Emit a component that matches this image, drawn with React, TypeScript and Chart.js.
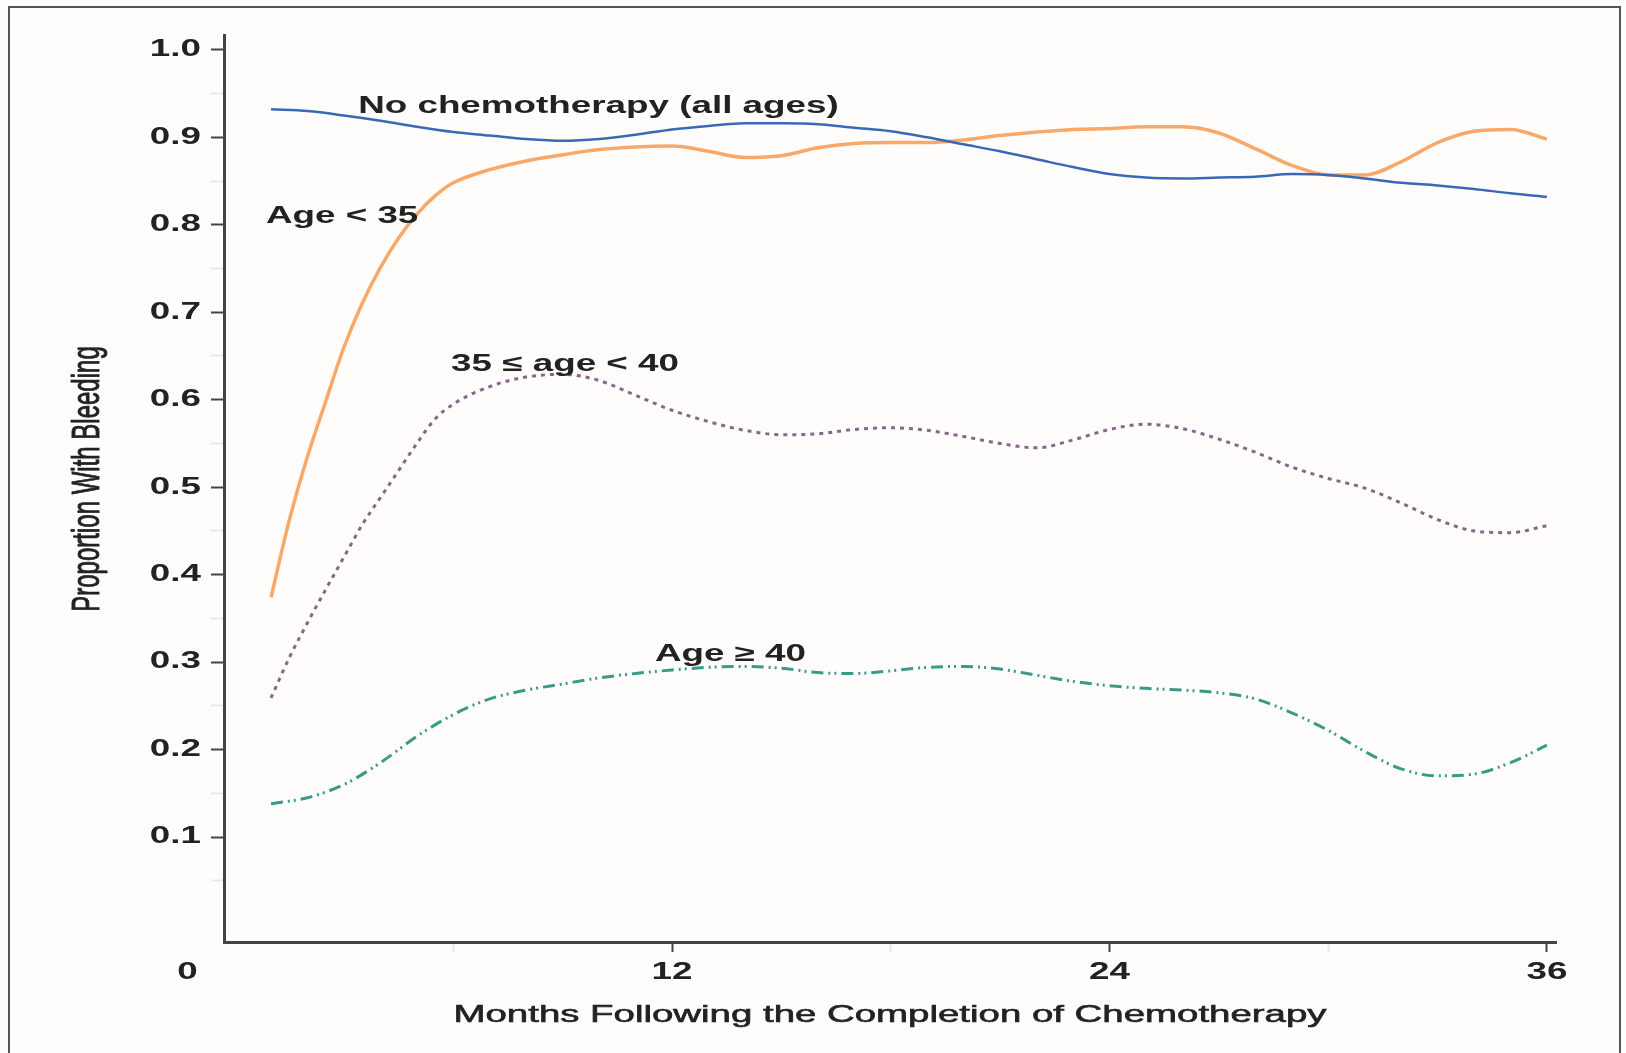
import React, { useEffect, useRef } from "react";
import { Chart, registerables } from "chart.js";

Chart.register(...registerables);

// ---------- data ----------
const monthsFine = [1, 1.5, 2, 2.5, 3, 3.5, 4, 4.5, 5, 5.5, 6, 7, 8, 9, 10, 11, 12, 13, 14, 15, 16, 17, 18, 19, 20, 21, 22, 23, 24, 25, 26, 27, 28, 29, 30, 31, 32, 33, 34, 35, 36];
const monthsWhole = [1, 2, 3, 4, 5, 6, 7, 8, 9, 10, 11, 12, 13, 14, 15, 16, 17, 18, 19, 20, 21, 22, 23, 24, 25, 26, 27, 28, 29, 30, 31, 32, 33, 34, 35, 36];

const noChemo = [0.932, 0.93, 0.925, 0.919, 0.912, 0.906, 0.902, 0.898, 0.896, 0.898, 0.903, 0.909, 0.913, 0.916, 0.916, 0.915, 0.911, 0.907, 0.9, 0.892, 0.884, 0.875, 0.866, 0.858, 0.854, 0.853, 0.854, 0.855, 0.858, 0.857, 0.853, 0.848, 0.845, 0.841, 0.836, 0.832];

const ageUnder35 = [0.374, 0.462, 0.535, 0.598, 0.66, 0.71, 0.751, 0.785, 0.812, 0.833, 0.848, 0.863, 0.873, 0.88, 0.886, 0.889, 0.89, 0.884, 0.877, 0.879, 0.888, 0.893, 0.894, 0.894, 0.897, 0.902, 0.906, 0.909, 0.91, 0.912, 0.912, 0.905, 0.887, 0.868, 0.857, 0.857, 0.872, 0.894, 0.907, 0.909, 0.898];

const age35to40 = [0.259, 0.305, 0.345, 0.383, 0.42, 0.457, 0.488, 0.519, 0.55, 0.578, 0.595, 0.615, 0.626, 0.629, 0.622, 0.605, 0.588, 0.575, 0.565, 0.56, 0.561, 0.566, 0.568, 0.565, 0.558, 0.55, 0.545, 0.554, 0.566, 0.572, 0.567, 0.555, 0.54, 0.523, 0.51, 0.499, 0.482, 0.463, 0.45, 0.448, 0.456];

const age40plus = [0.138, 0.145, 0.16, 0.185, 0.215, 0.24, 0.258, 0.268, 0.275, 0.282, 0.287, 0.291, 0.294, 0.295, 0.293, 0.288, 0.287, 0.29, 0.294, 0.295, 0.292, 0.285, 0.278, 0.273, 0.27, 0.268, 0.265, 0.258, 0.242, 0.222, 0.198, 0.178, 0.17, 0.172, 0.185, 0.205];

const yTickLabels = [0.1, 0.2, 0.3, 0.4, 0.5, 0.6, 0.7, 0.8, 0.9, 1.0];
const xTickLabels = [0, 12, 24, 36];

const seriesLabels = ["No chemotherapy (all ages)", "Age < 35", "35 \u2264 age < 40", "Age \u2265 40"];
const labelMonth = [3.39, 0.86, 5.94, 11.53];
const labelValue = [0.935, 0.809, 0.64, 0.308];

const xTitle = "Months Following the Completion of Chemotherapy";
const yTitle = "Proportion With Bleeding";

// ---------- helpers ----------
const STRETCH = 1.6;
const TEXT = "#222222";

function stretchedText(
  ctx: CanvasRenderingContext2D,
  text: string,
  x: number,
  y: number,
  align: CanvasTextAlign,
  font: string,
  rotate = false,
  stroke = 0
) {
  ctx.save();
  ctx.translate(x, y);
  ctx.scale(STRETCH, 1);
  if (rotate) ctx.rotate(-Math.PI / 2);
  ctx.font = font;
  ctx.textAlign = align;
  ctx.textBaseline = "middle";
  ctx.fillStyle = TEXT;
  ctx.fillText(text, 0, 0);
  if (stroke > 0) {
    ctx.strokeStyle = TEXT;
    ctx.lineWidth = stroke;
    ctx.strokeText(text, 0, 0);
  }
  ctx.restore();
}

const isMajor = (v: number, step: number) => Math.abs(v / step - Math.round(v / step)) < 1e-6;

const framePlugin = {
  id: "frame",
  beforeDraw(chart: any) {
    const ctx = chart.ctx as CanvasRenderingContext2D;
    ctx.save();
    ctx.fillStyle = "#fffdfc";
    ctx.fillRect(0, 0, chart.width, chart.height);
    ctx.strokeStyle = "#555555";
    ctx.lineWidth = 2;
    ctx.strokeRect(9, 7, 1611, 1060);
    ctx.restore();
  },
};

const textPlugin = {
  id: "texts",
  afterDraw(chart: any) {
    const ctx = chart.ctx as CanvasRenderingContext2D;
    const xs = chart.scales.x;
    const ys = chart.scales.y;
    const area = chart.chartArea;
    const tickFont = "bold 23px 'Liberation Sans', Arial, sans-serif";
    yTickLabels.forEach((v) => {
      stretchedText(ctx, v.toFixed(1), area.left - 23, ys.getPixelForValue(v), "right", tickFont);
    });
    xTickLabels.forEach((v) => {
      const px = xs.getPixelForValue(v) - (v === 0 ? 47 : 0);
      stretchedText(ctx, String(v), px, area.bottom + 31, "center", tickFont);
    });
    const titleFont = "24px 'Liberation Sans', Arial, sans-serif";
    stretchedText(ctx, xTitle, (area.left + area.right) / 2, area.bottom + 73, "center", titleFont, false, 0.6);
    stretchedText(ctx, yTitle, 88, area.top + 444, "center", titleFont, true, 0.6);
    seriesLabels.forEach((t, i) => {
      stretchedText(ctx, t, xs.getPixelForValue(labelMonth[i]), ys.getPixelForValue(labelValue[i]), "left", tickFont);
    });
  },
};

export default function App() {
  const canvasRef = useRef<HTMLCanvasElement | null>(null);

  useEffect(() => {
    document.body.style.margin = "0";
    document.body.style.overflow = "hidden";
    const canvas = canvasRef.current;
    if (!canvas) return;
    const toPts = (xs: number[], ys: number[]) => xs.map((x, i) => ({ x, y: ys[i] }));

    const chart = new Chart(canvas, {
      type: "line",
      data: {
        datasets: [
          {
            label: seriesLabels[0],
            data: toPts(monthsWhole, noChemo),
            borderColor: "#3a68b4",
            borderWidth: 2.5,
            pointRadius: 0,
            cubicInterpolationMode: "monotone",
          },
          {
            label: seriesLabels[1],
            data: toPts(monthsFine, ageUnder35),
            borderColor: "#f8a868",
            borderWidth: 3.5,
            pointRadius: 0,
            cubicInterpolationMode: "monotone",
          },
          {
            label: seriesLabels[2],
            data: toPts(monthsFine, age35to40),
            borderColor: "#86678a",
            borderWidth: 3,
            borderDash: [4, 5],
            pointRadius: 0,
            cubicInterpolationMode: "monotone",
          },
          {
            label: seriesLabels[3],
            data: toPts(monthsWhole, age40plus),
            borderColor: "#3a9a88",
            borderWidth: 3,
            borderDash: [12, 5, 2, 4, 2, 5],
            pointRadius: 0,
            cubicInterpolationMode: "monotone",
          },
        ],
      },
      options: {
        animation: false,
        responsive: false,
        maintainAspectRatio: false,
        events: [],
        layout: { padding: { left: 211, top: 35, right: 70, bottom: 101 } },
        plugins: { legend: { display: false }, tooltip: { enabled: false } },
        scales: {
          x: {
            type: "linear",
            min: -0.29,
            max: 36.25,
            afterBuildTicks: (scale: any) => {
              scale.ticks = scale.ticks.filter((t: any) => t.value > 0.5);
            },
            ticks: { display: false, stepSize: 6, includeBounds: false },
            grid: {
              drawOnChartArea: false,
              drawTicks: true,
              tickLength: 10,
              tickWidth: 2,
              tickColor: (c: any) => (isMajor(c.tick.value, 12) ? "#444444" : "rgba(80,80,80,0.12)"),
            },
            border: { display: true, color: "#444444", width: 3 },
          },
          y: {
            type: "linear",
            min: -0.02,
            max: 1.017,
            afterBuildTicks: (scale: any) => {
              scale.ticks = scale.ticks.filter((t: any) => t.value > 0.01);
            },
            ticks: { display: false, stepSize: 0.05, includeBounds: false },
            grid: {
              drawOnChartArea: false,
              drawTicks: true,
              tickLength: 13,
              tickWidth: 2,
              tickColor: (c: any) => (isMajor(c.tick.value, 0.1) ? "#444444" : "rgba(80,80,80,0.12)"),
            },
            border: { display: true, color: "#444444", width: 3 },
          },
        },
      },
      plugins: [framePlugin, textPlugin],
    } as any);

    return () => chart.destroy();
  }, []);

  return (
    <div style={{ width: 1626, height: 1053 }}>
      <canvas ref={canvasRef} width={1626} height={1053} style={{ display: "block" }} />
    </div>
  );
}
